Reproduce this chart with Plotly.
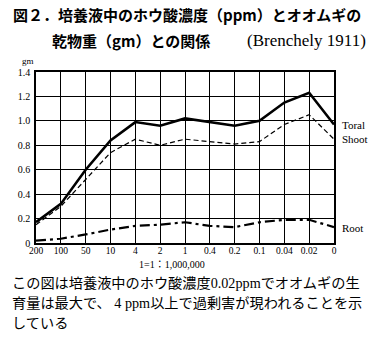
import plotly.graph_objects as go

conc_labels = ["200", "100", "50", "10", "4", "2", "1", "0.4", "0.2", "0.1", "0.04", "0.02", "0"]
total = [0.17, 0.32, 0.60, 0.84, 0.99, 0.96, 1.02, 0.99, 0.96, 1.00, 1.15, 1.23, 0.97]
shoot = [0.15, 0.30, 0.52, 0.74, 0.85, 0.80, 0.85, 0.83, 0.81, 0.83, 0.97, 1.05, 0.85]
root = [0.02, 0.035, 0.07, 0.11, 0.14, 0.15, 0.17, 0.14, 0.13, 0.17, 0.19, 0.19, 0.13]
series_names = ["Toral", "Shoot", "Root"]
y_ticks = [0, 0.2, 0.4, 0.6, 0.8, 1.0, 1.2, 1.4]
y_ticktext = ["0", "0.2", "0.4", "0.6", "0.8", "1.0", "1.2", "1.4"]

xs = list(range(len(conc_labels)))
serif = "Liberation Serif, Noto Sans CJK JP, serif"
jp = "Noto Sans CJK JP, sans-serif"

W, H = 378, 338
ml, mr, mt, mb = 36, 44, 72, 95
pw, ph = W - ml - mr, H - mt - mb

fig = go.Figure()
fig.add_trace(go.Scatter(x=xs, y=total, mode="lines", line=dict(color="black", width=2.6), name=series_names[0]))
fig.add_trace(go.Scatter(x=xs, y=shoot, mode="lines", line=dict(color="black", width=1.2, dash="5px,3px"), name=series_names[1]))
fig.add_trace(go.Scatter(x=xs, y=root, mode="lines", line=dict(color="black", width=2.2, dash="10px,4px,3px,4px"), name=series_names[2]))

# end labels
label_y = [total[-1] + 0.0, shoot[-1] + 0.0, root[-1] - 0.01]
for name, yv in zip(series_names, label_y):
    fig.add_annotation(x=len(xs) - 1, y=yv, xref="x", yref="y", text=name, showarrow=False,
                       xanchor="left", xshift=6, font=dict(family=serif, size=11, color="black"))

fig.update_xaxes(range=[0, len(xs) - 1], tickvals=xs, ticktext=conc_labels, showgrid=True,
                 gridcolor="black", gridwidth=1.4, showline=True, linecolor="black", linewidth=1.5,
                 mirror=True, ticks="", tickfont=dict(family=serif, size=9.5, color="black"), zeroline=False,
                 ticklabelstandoff=-2)
fig.update_yaxes(range=[0, 1.4], tickvals=y_ticks, ticktext=y_ticktext, showgrid=True,
                 gridcolor="black", gridwidth=1.4, showline=True, linecolor="black", linewidth=1.5,
                 mirror=True, ticks="", tickfont=dict(family=serif, size=10, color="black"), zeroline=False,
                 ticklabelstandoff=2)

anns = [
    dict(text="<b>図２．培養液中のホウ酸濃度（ppm）とオオムギの</b>", x=11, y=14, family=jp, size=15),
    dict(text="<b>乾物重（gm）との関係</b>", x=50, y=41, family=jp, size=15),
    dict(text="(Brenchely 1911)", x=245, y=41, family="Liberation Serif, serif", size=17),
    dict(text="gm", x=20, y=61, family=serif, size=9),
    dict(text="1=1：1,000,000", x=137, y=264, family=serif, size=10),
    dict(text="この図は培養液中のホウ酸濃度0.02ppmでオオムギの生", x=10, y=283, family=serif, size=14.2),
    dict(text="育量は最大で、 4 ppm以上で過剰害が現われることを示", x=10, y=303, family=serif, size=14.2),
    dict(text="している", x=10, y=323, family=serif, size=14.2),
]
for a in anns:
    fig.add_annotation(x=(a["x"] - ml) / pw, y=1 - (a["y"] - mt) / ph, xref="paper", yref="paper",
                       text=a["text"], showarrow=False, xanchor="left", yanchor="middle",
                       font=dict(family=a["family"], size=a["size"], color="black"))

fig.update_layout(width=W, height=H, margin=dict(l=ml, r=mr, t=mt, b=mb), showlegend=False,
                  plot_bgcolor="white", paper_bgcolor="white")
fig.write_html("out.html")
